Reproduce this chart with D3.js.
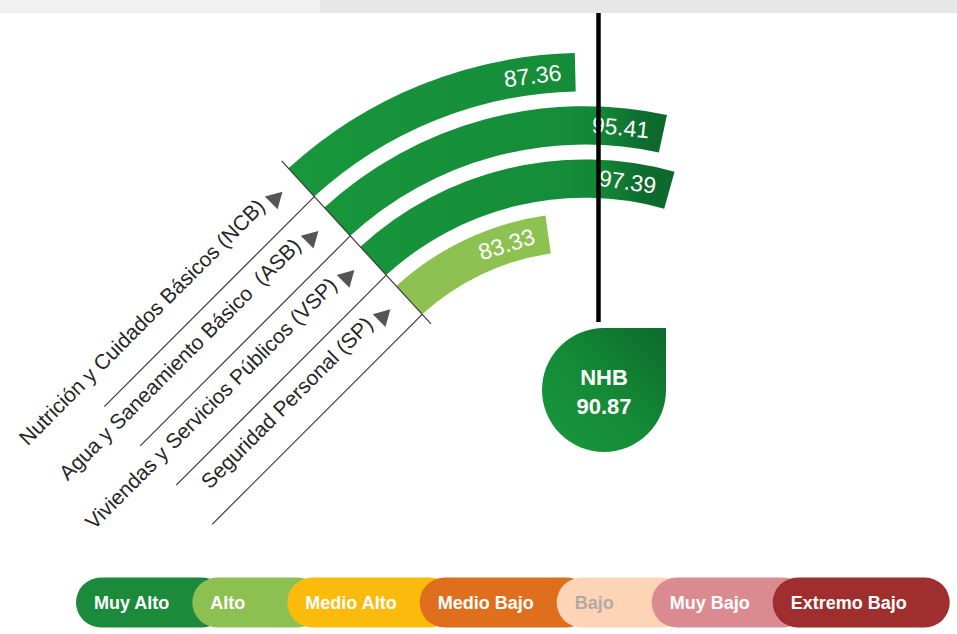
<!DOCTYPE html>
<html><head><meta charset="utf-8">
<script src="https://cdn.jsdelivr.net/npm/d3@7/dist/d3.min.js"></script>
<style>
html,body{margin:0;padding:0;background:#fff;}
svg{display:block;font-family:"Liberation Sans",Arial,sans-serif;}
</style></head><body>
<svg id="chart" width="957" height="634"></svg>
<script>
// ---- data ----
const categories = ["Nutrición y Cuidados Básicos (NCB)", "Agua y Saneamiento Básico  (ASB)", "Viviendas y Servicios Públicos (VSP)", "Seguridad Personal (SP)"];
const values = [87.36, 95.41, 97.39, 83.33];
const levels = ["Muy Alto", "Muy Alto", "Muy Alto", "Alto"];
const indexName = "NHB";
const indexValue = 90.87;
const legendLabels = ["Muy Alto", "Alto", "Medio Alto", "Medio Bajo", "Bajo", "Muy Bajo", "Extremo Bajo"];
const legendColors = ["#1b8a3b", "#8cc152", "#fbbb0c", "#df6f1d", "#fdd4b6", "#db8b90", "#9f2f2f"];
const legendTextColors = ["#ffffff", "#ffffff", "#ffffff", "#ffffff", "#b3aaa2", "#ffffff", "#ffffff"];

// ---- layout ----
const W = 957, H = 634;
const cx = 585, cy = 492;
const deg = Math.PI / 180;
const a0 = -42.5 * deg;
const svg = d3.select("#chart");

const angle = d3.scaleLinear().domain([63, 100]).range([a0, 20.03 * deg]);
const radius = d3.scaleBand().domain(categories).range([439, 241]).paddingInner(0.28);

const data = categories.map((c, i) => ({cat: c, value: values[i], level: levels[i]}));

// background hints
svg.append("rect").attr("x", 0).attr("y", 0).attr("width", W).attr("height", 13).attr("fill", "#f1f1f1");
svg.append("rect").attr("x", 320).attr("y", 0).attr("width", W - 320).attr("height", 13).attr("fill", "#e7e7e7");

const defs = svg.append("defs");
const gDark = defs.append("linearGradient").attr("id", "gDark")
  .attr("gradientUnits", "userSpaceOnUse")
  .attr("x1", 290 - cx).attr("y1", 0).attr("x2", 690 - cx).attr("y2", 0);
[[0, "#18973c"], [0.7, "#148c39"], [0.78, "#128636"], [0.88, "#0e6c2e"], [1, "#0b6529"]]
  .forEach(s => gDark.append("stop").attr("offset", s[0]).attr("stop-color", s[1]));
const gDrop = defs.append("linearGradient").attr("id", "gDrop")
  .attr("x1", 1).attr("y1", 0).attr("x2", 0).attr("y2", 1);
[[0, "#0c6a2b"], [0.5, "#148a37"], [1, "#19983c"]]
  .forEach(s => gDrop.append("stop").attr("offset", s[0]).attr("stop-color", s[1]));

const fillFor = lvl => lvl === "Muy Alto" ? "url(#gDark)" : "#8dc252";

// ---- arcs ----
const g = svg.append("g").attr("transform", `translate(${cx},${cy})`);
const arc = d3.arc()
  .innerRadius(d => radius(d.cat))
  .outerRadius(d => radius(d.cat) + radius.bandwidth())
  .startAngle(a0)
  .endAngle(d => angle(d.value));

g.selectAll("path.bar").data(data).join("path")
  .attr("class", "bar")
  .attr("d", arc)
  .attr("fill", d => fillFor(d.level));

// value labels
data.forEach(d => {
  const rm = radius(d.cat) + radius.bandwidth() / 2;
  const t = g.append("text")
    .text(d.value.toFixed(2))
    .attr("font-size", 23)
    .attr("fill", "#ffffff")
    .attr("text-anchor", "middle")
    .attr("dy", "0.36em");
  const tw = t.node().getComputedTextLength();
  const ac = angle(d.value) - (14 + tw / 2) / rm;
  t.attr("transform", `rotate(${ac / deg}) translate(0,${-rm})`);
});

// radial start line
const rl0 = 228, rl1 = 449;
g.append("line")
  .attr("x1", rl0 * Math.sin(a0)).attr("y1", -rl0 * Math.cos(a0))
  .attr("x2", rl1 * Math.sin(a0)).attr("y2", -rl1 * Math.cos(a0))
  .attr("stroke", "#3a3a3a").attr("stroke-width", 1.2);

// ---- category labels (rotated frame) ----
const lg = svg.append("g").attr("transform", "rotate(-45)");
data.forEach(d => {
  const ri = radius(d.cat);
  const px = cx + ri * Math.sin(a0), py = cy - ri * Math.cos(a0);
  const u = (px - py) / Math.SQRT2, v = (px + py) / Math.SQRT2;
  lg.append("line").attr("x1", u - 297).attr("y1", v).attr("x2", u).attr("y2", v)
    .attr("stroke", "#3a3a3a").attr("stroke-width", 1.2);
  lg.append("text").text(d.cat)
    .attr("x", u - 42).attr("y", v - 26)
    .attr("text-anchor", "end")
    .attr("font-size", 21)
    .attr("fill", "#262626")
    .style("white-space", "pre");
  const tu = u - 28, tv = v - 26;
  lg.append("path")
    .attr("d", `M${tu - 7},${tv - 9} L${tu + 9},${tv} L${tu - 7},${tv + 9} Z`)
    .attr("fill", "#555555");
});

// ---- NHB marker ----
svg.append("line").attr("x1", 598.5).attr("x2", 598.5).attr("y1", 13).attr("y2", 322)
  .attr("stroke", "#000").attr("stroke-width", 4.5);
const dx = 604, dy = 390, dr = 62;
svg.append("path")
  .attr("d", `M${dx},${dy - dr} L${dx + dr},${dy - dr} L${dx + dr},${dy} A${dr},${dr} 0 1 1 ${dx},${dy - dr} Z`)
  .attr("fill", "url(#gDrop)");
svg.append("text").text(indexName).attr("x", dx).attr("y", 385)
  .attr("text-anchor", "middle").attr("font-weight", "bold").attr("font-size", 22).attr("fill", "#fff");
svg.append("text").text(indexValue.toFixed(2)).attr("x", dx).attr("y", 414)
  .attr("text-anchor", "middle").attr("font-weight", "bold").attr("font-size", 22).attr("fill", "#fff");

// ---- legend ----
const leg = svg.append("g");
const lfs = 18;
let lx = 76;
const items = legendLabels.map((lab, i) => {
  const t = leg.append("text").text(lab).attr("font-size", lfs).attr("font-weight", "bold");
  const tw = t.node().getComputedTextLength();
  t.remove();
  const step = Math.max(tw + 41, 95);
  const it = {lab, x: lx, tw, step, color: legendColors[i], tc: legendTextColors[i]};
  lx += step;
  return it;
});
items.forEach((it, i) => {
  const w = i < items.length - 1 ? it.step + 35 : it.tw + 61;
  leg.append("rect").attr("x", it.x).attr("y", 577.5).attr("width", w).attr("height", 50)
    .attr("rx", 25).attr("fill", it.color);
});
items.forEach(it => {
  leg.append("text").text(it.lab).attr("x", it.x + 18).attr("y", 609)
    .attr("font-size", lfs).attr("font-weight", "bold").attr("fill", it.tc);
});
</script>
</body></html>
